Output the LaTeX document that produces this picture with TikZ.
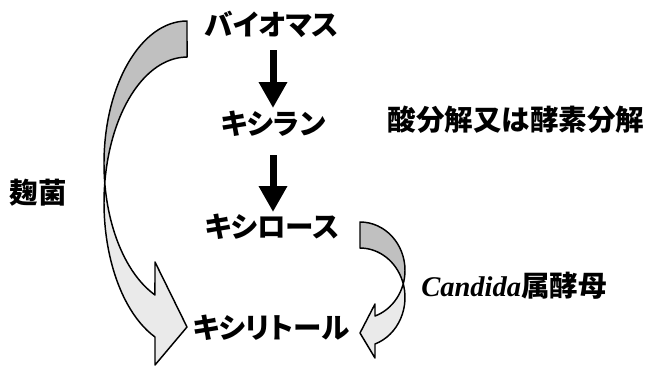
\documentclass[tikz,border=0pt]{standalone}
\usepackage{fontspec}
\newfontfamily\jp{Noto Sans CJK JP}[RawFeature=+palt]
\newfontfamily\tnr{Liberation Serif}
\usetikzlibrary{arrows.meta}
\definecolor{darkband}{RGB}{192,192,192}
\definecolor{lightband}{RGB}{234,234,234}
\newcommand{\bigpath}{(187,21) arc[start angle=270, end angle=112.7, x radius=83, y radius=142.5] -- (155,262) -- (187,327) -- (155,365) -- (155,337) arc[start angle=112.7, end angle=270, x radius=83, y radius=145.6] -- cycle}
\newcommand{\smallpath}{(360,222) arc[start angle=270, end angle=430.53, x radius=45, y radius=48.4] -- (375,304) -- (360,333) -- (375,358) -- (375,344) arc[start angle=430.53, end angle=270, x radius=45, y radius=49.4] -- cycle}
\begin{document}
\begin{tikzpicture}[x=0.75pt,y=-0.75pt,
  lbl/.style={font=\jp\bfseries\fontsize{21.4}{21.4}\selectfont, inner sep=0pt, text height=0.8em, text depth=0.08em},
  band/.style={line width=1.1pt, line join=round},
  downarrow/.style={line width=5.25pt, -{Triangle[width=20.25pt,length=19.5pt]}}]
\useasboundingbox[fill=white] (0,0) rectangle (658,365);
% big curved arrow
\fill[lightband] \bigpath;
\begin{scope}
  \clip (0,0) rectangle (658,182.8);
  \fill[darkband] \bigpath;
\end{scope}
\draw[band] \bigpath;
% small curved arrow
\fill[lightband] \smallpath;
\begin{scope}
  \clip (0,0) rectangle (658,283.8);
  \fill[darkband] \smallpath;
\end{scope}
\draw[band] \smallpath;
% texts
\node[lbl] (bio) at (272,31) {バイオマス};
\node[lbl] (xylan) at (273,130) {キシラン};
\node[lbl] (xylose) at (272,233) {キシロース};
\node[lbl] (xylitol) at (271,334) {キシリトール};
\node[lbl] (acid) at (516,126) {酸分解又は酵素分解};
\node[lbl] (koji) at (38,199) {麹菌};
\node[lbl] (cand) at (514,292) {{\tnr\bfseries\itshape Candida}属酵母};
% straight arrows
\coordinate (a1s) at (273,50);
\coordinate (a1e) at (273,108);
\coordinate (a2s) at (273,155);
\coordinate (a2e) at (273,212);
\draw[downarrow] (a1s) -- (a1e);
\draw[downarrow] (a2s) -- (a2e);
\end{tikzpicture}
\end{document}
